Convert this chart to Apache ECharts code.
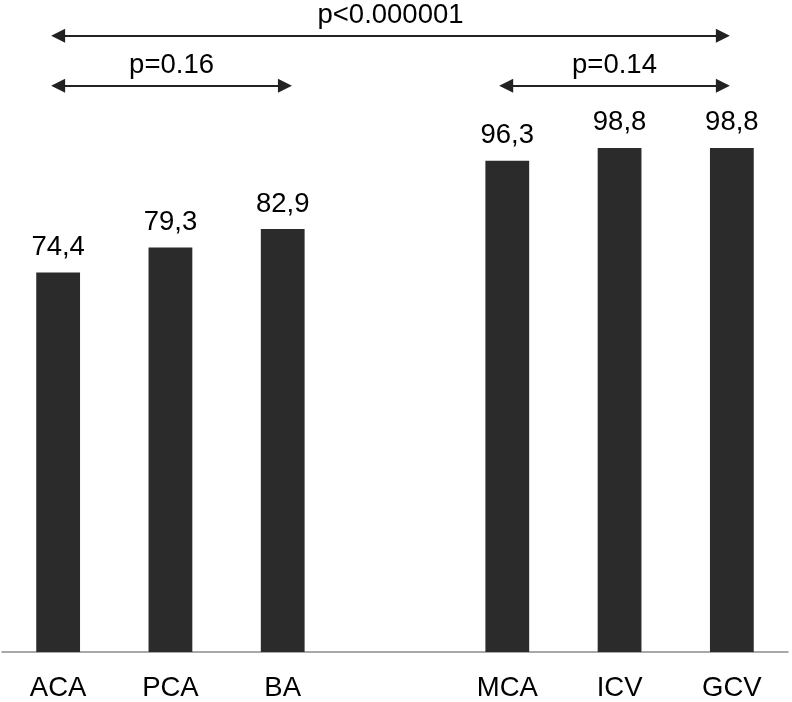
<!DOCTYPE html>
<html>
<head>
<meta charset="utf-8">
<script src="https://cdn.jsdelivr.net/npm/echarts@6/dist/echarts.min.js"></script>
<style>
  html, body { margin: 0; padding: 0; background: #fff; }
  #chart { width: 792px; height: 702px; }
</style>
</head>
<body>
<div id="chart"></div>
<script>
// vessels, with an empty slot between the two groups
const categories = ['ACA', 'PCA', 'BA', '', 'MCA', 'ICV', 'GCV'];
const rates = [74.4, 79.3, 82.9, '-', 96.3, 98.8, 98.8];

// comparison brackets: [from, to] on a 0..7 slot scale, height in value units, text
const bracketFrom = [0.5, 0.5, 4.49];
const bracketTo = [6.42, 2.52, 6.42];
const bracketLevel = [120.8, 111, 111];
const bracketText = ['p<0.000001', 'p=0.16', 'p=0.14'];

const FONT = 'Liberation Sans, Arial, sans-serif';
const chart = echarts.init(document.getElementById('chart'));

const brackets = bracketText.map((t, i) => [
    {coord: [bracketFrom[i], bracketLevel[i]], label: {formatter: t}},
    {coord: [bracketTo[i], bracketLevel[i]]}
]);

chart.setOption({
    animation: false,
    grid: {left: 2, right: 4, top: 4, bottom: 50},
    xAxis: [{
        type: 'category',
        data: categories,
        axisLine: {lineStyle: {color: '#8c8c8c', width: 1.5}},
        axisTick: {show: false},
        axisLabel: {color: '#000', fontSize: 27.5, fontFamily: FONT, margin: 22}
    }, {
        type: 'value', min: 0, max: 7, show: false
    }],
    yAxis: {
        type: 'value', min: 0, max: 127, show: false,
        splitLine: {show: false}
    },
    series: [{
        type: 'bar',
        data: rates,
        barWidth: '39%',
        itemStyle: {color: '#2b2b2b'},
        label: {
            show: true, position: 'top', distance: 11,
            color: '#000', fontSize: 27.5, fontFamily: FONT,
            formatter: p => p.value.toFixed(1).replace('.', ',')
        }
    }, {
        type: 'line',
        xAxisIndex: 1,
        data: [],
        markLine: {
            silent: true,
            symbol: ['triangle', 'triangle'],
            symbolSize: [14, 14],
            lineStyle: {color: '#222', width: 2.2, type: 'solid'},
            label: {
                position: 'middle', distance: 6,
                color: '#000', fontSize: 27.5, fontFamily: FONT
            },
            data: brackets
        }
    }]
});
</script>
</body>
</html>
